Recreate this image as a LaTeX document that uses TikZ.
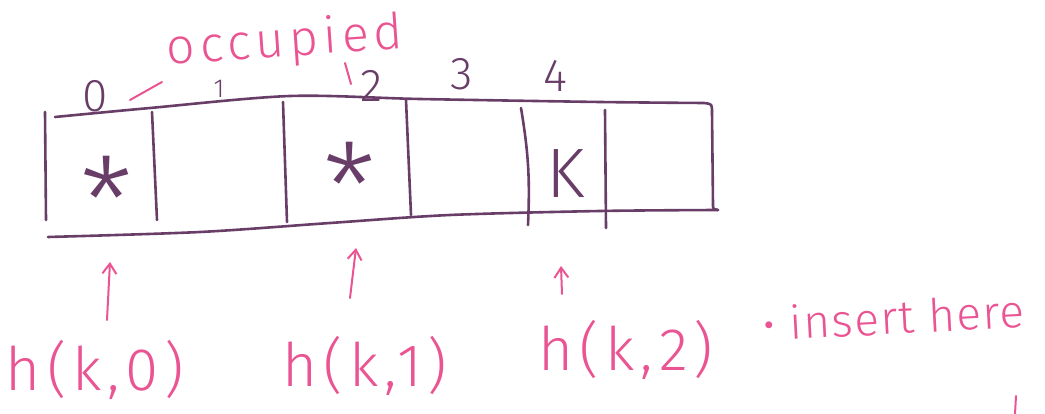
\documentclass[tikz,border=0pt]{standalone}
\usepackage{fontspec}
\setmainfont{Fira Sans}[UprightFont={* Light}]
\usetikzlibrary{arrows.meta}
\definecolor{inkc}{RGB}{104,62,104}
\definecolor{penc}{RGB}{234,84,146}
\begin{document}
\begin{tikzpicture}[x=1pt,y=-1pt,
  ink/.style={draw=inkc,line width=2.6pt,line cap=round,line join=round},
  pen/.style={draw=penc,line width=2pt,line cap=round,line join=round},
  idx/.style={text=inkc,inner sep=0pt,font=\fontsize{46}{48}\selectfont},
  cellmark/.style={text=inkc,inner sep=0pt},
  starmark/.style={cellmark,font=\fontsize{120}{120}\selectfont},
  hand/.style={text=penc,inner sep=0pt,font=\fontsize{60}{62}\selectfont\addfontfeatures{LetterSpace=10}},
  up/.style={pen,-{Straight Barb[length=10pt,width=14pt,line width=2pt]}}]
\useasboundingbox (0,0) rectangle (1045,414);

% the table: top and bottom edges
\draw[ink] plot[smooth] coordinates {(55,117) (150,108) (290,96) (420,99) (600,102) (704,103)}
  .. controls (712,104) .. (712,112);
\draw[ink] plot[smooth] coordinates {(48,237) (200,232) (330,223) (450,215) (600,211) (718,210)};
% cell walls
\draw[ink] (45,112) -- (46,220);
\draw[ink] (152,112) -- (157,220);
\draw[ink] (283,102) -- (287,222);
\draw[ink] (406,100) -- (411,215);
\draw[ink] (521,108) to[bend left=6] (528,225);
\draw[ink] (605,110) -- (606,228);
\draw[ink] (712,112) -- (713,205) .. controls (713,209) .. (718,210);

% slot indices
\node[idx] (i0) at (95,96) {0};
\node[idx,font=\fontsize{26}{28}\selectfont] (i1) at (219,89) {1};
\node[idx] (i2) at (372,86) {2};
\node[idx] (i3) at (462,74) {3};
\node[idx] (i4) at (555,76) {4};

% cell contents
\node[starmark] (s0) at (107,200) {*};
\node[starmark] (s2) at (350,186) {*};
\node[cellmark,font=\fontsize{70}{70}\selectfont] (k4) at (566,174) {K};

% occupied note
\node[hand,font=\fontsize{50}{52}\selectfont\addfontfeatures{LetterSpace=10},rotate=4] (occ) at (285,43) {occupied};
\coordinate (d0a) at (130,100);
\coordinate (d0b) at (162,82);
\draw[pen] (d0a) -- (d0b);
\coordinate (d2a) at (345,63);
\coordinate (d2b) at (351,84);
\draw[pen] (d2a) -- (d2b);

% probe sequence
\node[hand] (h0) at (95,370) {h(k,0)};
\node[hand] (h1) at (365,366) {h(k,1)};
\node[hand] (h2) at (626,350) {h(k,2)};
\node[hand,font=\fontsize{46}{48}\selectfont\addfontfeatures{LetterSpace=3},rotate=3,anchor=west] (ins) at (762,324) {• insert here};

\coordinate (t0) at (110,262);
\coordinate (t1) at (356,248);
\coordinate (t2) at (561,266);
\coordinate (b0) at (107,320);
\coordinate (b1) at (350,298);
\coordinate (b2) at (562,294);
\draw[up] (b0) -- (t0);
\draw[up] (b1) -- (t1);
\draw[up] (b2) -- (t2);

% stray pen mark at the lower right
\coordinate (m0) at (1016,396);
\coordinate (m1) at (1015,414);
\draw[pen] (m0) -- (m1);
\end{tikzpicture}
\end{document}
